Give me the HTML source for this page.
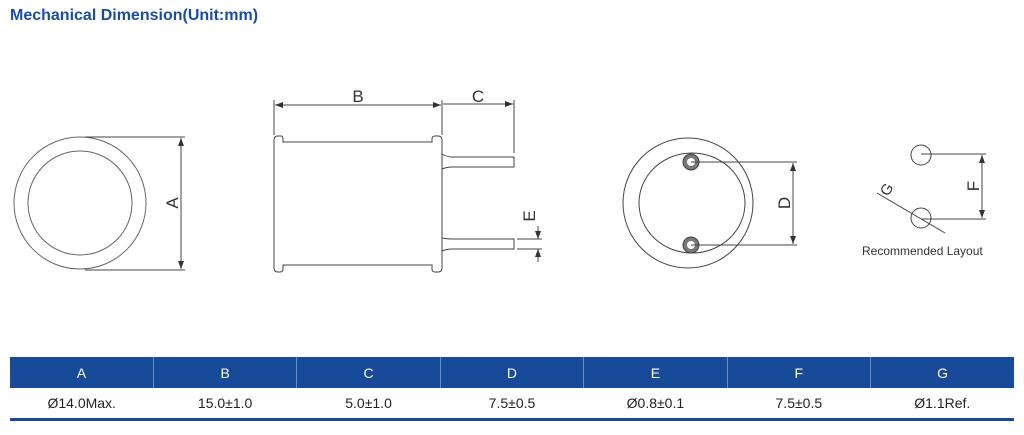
<!DOCTYPE html>
<html><head><meta charset="utf-8"><style>
body{margin:0;width:1024px;height:435px;background:#fff;overflow:hidden;font-family:"Liberation Sans","DejaVu Sans",sans-serif;position:relative}
.t{position:absolute;left:10px;top:7px;color:#1a4ea0;font-weight:bold;font-size:16px}
table{position:absolute;left:10px;top:357px;width:1004px;border-collapse:collapse;table-layout:fixed;font-family:"Liberation Sans Narrow","Liberation Sans",sans-serif;font-size:14px}
th{background:#174a99;color:#fff;font-weight:normal;height:31px;border-left:1px solid #6c8cc4;padding:0}
th:first-child{border-left:none}
td{text-align:center;height:30px;color:#222;padding:0;border-bottom:3px solid #174a99}
</style></head><body>
<div class="t">Mechanical Dimension(Unit:mm)</div>
<svg width="1024" height="435" style="position:absolute;left:0;top:0" fill="none" stroke="#444" stroke-width="1">
<defs><marker id="a" markerWidth="8" markerHeight="6" refX="8" refY="3" orient="auto-start-reverse"><path d="M0,0L8,3L0,6z" fill="#333" stroke="none"/></marker></defs>
<circle cx="80" cy="203" r="66" stroke="#666"/><circle cx="80" cy="203" r="52" stroke="#666"/>
<line x1="85" y1="137" x2="185" y2="137"/><line x1="85" y1="270" x2="185" y2="270"/>
<line x1="181" y1="138" x2="181" y2="269" marker-start="url(#a)" marker-end="url(#a)"/>
<path d="M278,136 H281 Q283,136 283,139 V142 H432 V139 Q432,136 435,136 H438 Q442,136 442,140 V268 Q442,272 438,272 H435 Q432,272 432,269 V265 H283 V269 Q283,272 280,272 H278 Q274,272 274,268 V140 Q274,136 278,136 Z"/>
<path d="M442,154 Q447,157 452,157 H514 V167 H452 Q447,167 442,169"/>
<path d="M442,238 Q447,239 452,239 H514 V249 H452 Q447,249 442,251"/>
<line x1="274" y1="100" x2="274" y2="135"/><line x1="442" y1="100" x2="442" y2="135"/><line x1="514" y1="100" x2="514" y2="153"/>
<line x1="275" y1="105" x2="441" y2="105" marker-start="url(#a)" marker-end="url(#a)"/>
<line x1="443" y1="104" x2="513" y2="104" marker-end="url(#a)"/>
<line x1="517" y1="239" x2="542" y2="239"/><line x1="517" y1="249" x2="542" y2="249"/>
<line x1="538" y1="226" x2="538" y2="239" marker-end="url(#a)"/><line x1="538" y1="262" x2="538" y2="249" marker-end="url(#a)"/>
<circle cx="688" cy="203" r="65"/><ellipse cx="692" cy="203" rx="53" ry="50"/>
<circle cx="691" cy="162" r="6" stroke="#777" stroke-width="4"/><circle cx="691" cy="162" r="8"/>
<circle cx="691" cy="245" r="6" stroke="#777" stroke-width="4"/><circle cx="691" cy="245" r="8"/>
<line x1="691" y1="162" x2="797" y2="162"/><line x1="691" y1="245" x2="797" y2="245"/>
<line x1="793" y1="163" x2="793" y2="244" marker-start="url(#a)" marker-end="url(#a)"/>
<circle cx="921" cy="155" r="10"/><circle cx="921" cy="218" r="10"/>
<line x1="921" y1="154" x2="986" y2="154"/><line x1="921" y1="219" x2="986" y2="219"/>
<line x1="982" y1="155" x2="982" y2="218" marker-start="url(#a)" marker-end="url(#a)"/>
<line x1="877" y1="193" x2="945" y2="233"/>
<g fill="#333" stroke="none" font-family="Liberation Sans,sans-serif" font-size="17">
<text x="358" y="102" text-anchor="middle">B</text><text x="478" y="102" text-anchor="middle">C</text>
<text transform="translate(178,203) rotate(-90)" text-anchor="middle">A</text>
<text transform="translate(535,216) rotate(-90)" text-anchor="middle">E</text>
<text transform="translate(790,203) rotate(-90)" text-anchor="middle">D</text>
<text transform="translate(979,186) rotate(-90)" text-anchor="middle">F</text>
<text transform="translate(891,192) rotate(-60)" text-anchor="middle" font-size="15">G</text>
<text x="862" y="255" font-size="12">Recommended Layout</text></g>
</svg>
<table><tr><th>A</th><th>B</th><th>C</th><th>D</th><th>E</th><th>F</th><th>G</th></tr>
<tr><td>Ø14.0Max.</td><td>15.0±1.0</td><td>5.0±1.0</td><td>7.5±0.5</td><td>Ø0.8±0.1</td><td>7.5±0.5</td><td>Ø1.1Ref.</td></tr></table>
</body></html>
